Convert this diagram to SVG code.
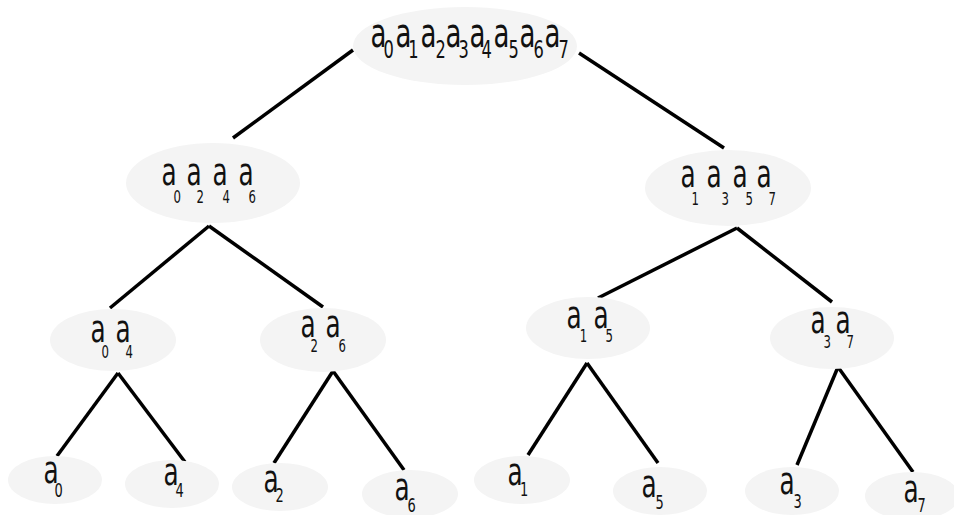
<svg xmlns="http://www.w3.org/2000/svg" width="954" height="515" viewBox="0 0 954 515">
  <style>
    .node { fill: #f4f4f4; }
    .edge { stroke: #000; stroke-width: 3.5; stroke-linecap: butt; fill: none; }
    text { font-family: "DejaVu Sans", sans-serif; fill: #111; }
    .big { font-size: 40px; }
    .mid { font-size: 38px; }
    .sub { font-size: 25px; }
    .sub2 { font-size: 18px; }
    .sub3 { font-size: 20px; }
  </style>

  <g id="connectors">
    <line class="edge" x1="353" y1="50" x2="233" y2="138"/>
    <line class="edge" x1="579" y1="53" x2="724" y2="148"/>
    <line class="edge" x1="209" y1="226" x2="110" y2="308"/>
    <line class="edge" x1="209" y1="226" x2="323" y2="307"/>
    <line class="edge" x1="737" y1="228" x2="598" y2="298"/>
    <line class="edge" x1="737" y1="228" x2="832" y2="302"/>
    <line class="edge" x1="118" y1="373" x2="57" y2="456"/>
    <line class="edge" x1="118" y1="373" x2="185" y2="462"/>
    <line class="edge" x1="333" y1="371" x2="274" y2="463"/>
    <line class="edge" x1="333" y1="371" x2="404" y2="470"/>
    <line class="edge" x1="587" y1="363" x2="528" y2="455"/>
    <line class="edge" x1="587" y1="363" x2="658" y2="463"/>
    <line class="edge" x1="838" y1="367" x2="797" y2="465"/>
    <line class="edge" x1="838" y1="367" x2="913" y2="472"/>
  </g>

  <!-- labels use narrow glyphs: x coordinates below are in the 0.65-wide text space -->
  <g id="n-root">
    <ellipse class="node" cx="465" cy="46" rx="112" ry="39"/>
    <g transform="scale(0.65 1)">
      <text class="big"><tspan x="570" y="47">a</tspan><tspan x="608.5" y="47">a</tspan><tspan x="647" y="47">a</tspan><tspan x="685.4" y="47">a</tspan><tspan x="722.3" y="47">a</tspan><tspan x="759.2" y="47">a</tspan><tspan x="799.2" y="47">a</tspan><tspan x="837.7" y="47">a</tspan></text>
      <text class="sub"><tspan x="590" y="58">0</tspan><tspan x="628" y="58">1</tspan><tspan x="670" y="58">2</tspan><tspan x="705.4" y="58">3</tspan><tspan x="740.8" y="58">4</tspan><tspan x="782.3" y="58">5</tspan><tspan x="820.8" y="58">6</tspan><tspan x="859.2" y="58">7</tspan></text>
    </g>
  </g>

  <g id="n-0246">
    <ellipse class="node" cx="213" cy="183" rx="87" ry="40"/>
    <g transform="scale(0.65 1)">
      <text class="mid"><tspan x="248.5" y="185">a</tspan><tspan x="286.9" y="185">a</tspan><tspan x="326.9" y="185">a</tspan><tspan x="366.9" y="185">a</tspan></text>
      <text class="sub2"><tspan x="266.9" y="203">0</tspan><tspan x="302.3" y="203">2</tspan><tspan x="342.3" y="203">4</tspan><tspan x="382.3" y="203">6</tspan></text>
    </g>
  </g>

  <g id="n-1357">
    <ellipse class="node" cx="728" cy="188" rx="83" ry="38"/>
    <g transform="scale(0.65 1)">
      <text class="mid"><tspan x="1046.9" y="187">a</tspan><tspan x="1086.9" y="187">a</tspan><tspan x="1126.9" y="187">a</tspan><tspan x="1163.8" y="187">a</tspan></text>
      <text class="sub2"><tspan x="1064" y="205">1</tspan><tspan x="1110" y="205">3</tspan><tspan x="1146.9" y="205">5</tspan><tspan x="1182.3" y="205">7</tspan></text>
    </g>
  </g>

  <g id="n-04">
    <ellipse class="node" cx="113" cy="340" rx="63" ry="31"/>
    <g transform="scale(0.65 1)">
      <text class="mid"><tspan x="139.2" y="342">a</tspan><tspan x="177.7" y="342">a</tspan></text>
      <text class="sub2"><tspan x="156.2" y="358">0</tspan><tspan x="193.1" y="358">4</tspan></text>
    </g>
  </g>

  <g id="n-26">
    <ellipse class="node" cx="323" cy="340" rx="63" ry="32"/>
    <g transform="scale(0.65 1)">
      <text class="mid"><tspan x="462.3" y="337">a</tspan><tspan x="500.8" y="337">a</tspan></text>
      <text class="sub2"><tspan x="477.7" y="352">2</tspan><tspan x="520.8" y="352">6</tspan></text>
    </g>
  </g>

  <g id="n-15">
    <ellipse class="node" cx="588" cy="328" rx="62" ry="31"/>
    <g transform="scale(0.65 1)">
      <text class="mid"><tspan x="871.5" y="328">a</tspan><tspan x="913.1" y="328">a</tspan></text>
      <text class="sub2"><tspan x="892" y="342">1</tspan><tspan x="931.5" y="342">5</tspan></text>
    </g>
  </g>

  <g id="n-37">
    <ellipse class="node" cx="832" cy="338" rx="62" ry="31"/>
    <g transform="scale(0.65 1)">
      <text class="mid"><tspan x="1246.9" y="333">a</tspan><tspan x="1285.4" y="333">a</tspan></text>
      <text class="sub2"><tspan x="1266.9" y="348">3</tspan><tspan x="1302.3" y="348">7</tspan></text>
    </g>
  </g>

  <g id="n-0">
    <ellipse class="node" cx="55" cy="480" rx="47" ry="24"/>
    <g transform="scale(0.65 1)">
      <text class="mid" x="66.9" y="483">a</text>
      <text class="sub3" x="83.8" y="497">0</text>
    </g>
  </g>
  <g id="n-4">
    <ellipse class="node" cx="172" cy="484" rx="47" ry="24"/>
    <g transform="scale(0.65 1)">
      <text class="mid" x="251.5" y="485">a</text>
      <text class="sub3" x="270" y="497">4</text>
    </g>
  </g>
  <g id="n-2">
    <ellipse class="node" cx="280" cy="487" rx="48" ry="24"/>
    <g transform="scale(0.65 1)">
      <text class="mid" x="405.4" y="492">a</text>
      <text class="sub3" x="423.8" y="502">2</text>
    </g>
  </g>
  <g id="n-6">
    <ellipse class="node" cx="410" cy="494" rx="48" ry="24"/>
    <g transform="scale(0.65 1)">
      <text class="mid" x="606.9" y="500">a</text>
      <text class="sub3" x="626.9" y="512">6</text>
    </g>
  </g>
  <g id="n-1">
    <ellipse class="node" cx="522" cy="480" rx="48" ry="24"/>
    <g transform="scale(0.65 1)">
      <text class="mid" x="780.8" y="485">a</text>
      <text class="sub3" x="800" y="496">1</text>
    </g>
  </g>
  <g id="n-5">
    <ellipse class="node" cx="660" cy="491" rx="47" ry="24"/>
    <g transform="scale(0.65 1)">
      <text class="mid" x="986.9" y="497">a</text>
      <text class="sub3" x="1008.5" y="509">5</text>
    </g>
  </g>
  <g id="n-3">
    <ellipse class="node" cx="792" cy="491" rx="47" ry="24"/>
    <g transform="scale(0.65 1)">
      <text class="mid" x="1199.2" y="494">a</text>
      <text class="sub3" x="1220.8" y="508">3</text>
    </g>
  </g>
  <g id="n-7">
    <ellipse class="node" cx="912" cy="496" rx="47" ry="24"/>
    <g transform="scale(0.65 1)">
      <text class="mid" x="1390" y="502">a</text>
      <text class="sub3" x="1411.5" y="512">7</text>
    </g>
  </g>
</svg>
